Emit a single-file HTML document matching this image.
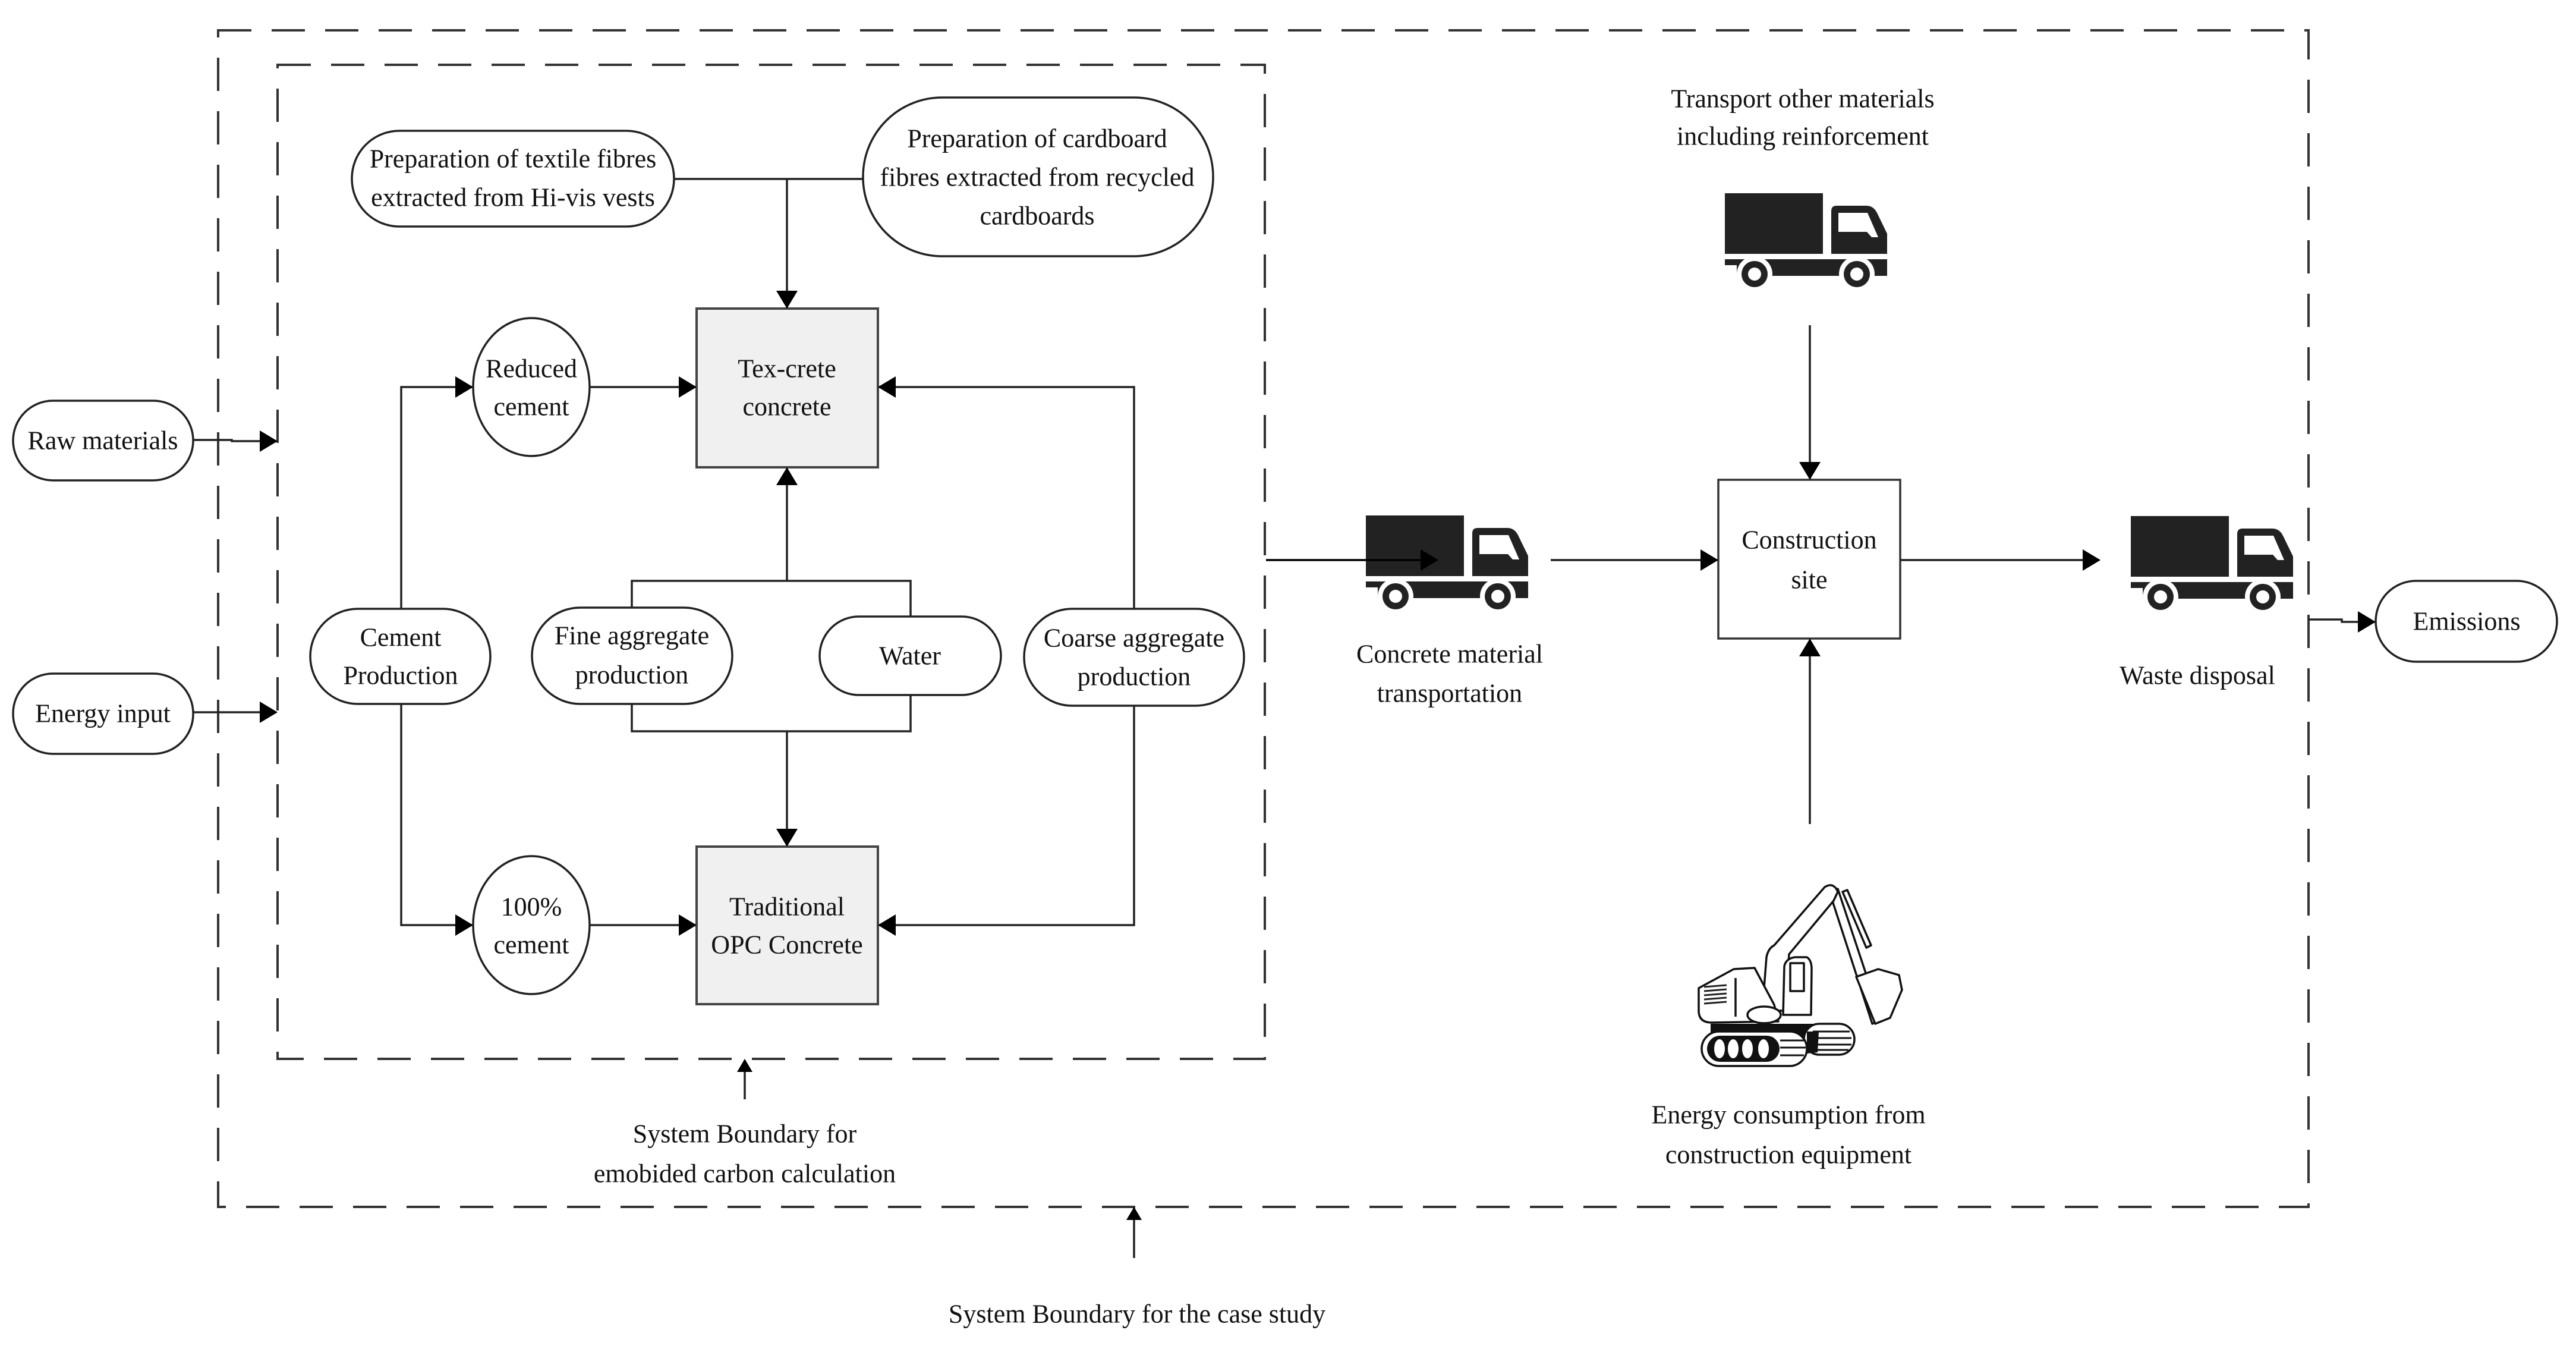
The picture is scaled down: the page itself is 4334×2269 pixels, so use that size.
<!DOCTYPE html>
<html><head><meta charset="utf-8">
<style>
html,body{margin:0;padding:0;background:#fff;}
svg{display:block;}
</style></head>
<body>
<svg width="4334" height="2269" viewBox="0 0 4334 2269" xmlns="http://www.w3.org/2000/svg">
<defs>
<marker id="ah" markerWidth="30" markerHeight="36" refX="28" refY="18" orient="auto" markerUnits="userSpaceOnUse">
<path d="M0,0 L30,18 L0,36 Z" fill="#000"/>
</marker>
<marker id="as" markerWidth="22" markerHeight="26" refX="20" refY="13" orient="auto" markerUnits="userSpaceOnUse">
<path d="M0,0 L22,13 L0,26 Z" fill="#000"/>
</marker>
<g id="truck">
<rect x="0" y="0" width="165" height="102" fill="#222"/>
<path d="M179,102 L179,30 Q179,21 188,21 L238,21 Q250,21 256,33 L273,68 L273,102 Z" fill="#222"/>
<path d="M191,33 L240,33 L258,74 L247,74 L239,65 L191,65 Z" fill="#fff"/>
<rect x="0" y="111" width="273" height="28" fill="#222"/>
<circle cx="50" cy="136" r="30" fill="#fff"/>
<circle cx="222" cy="136" r="30" fill="#fff"/>
<rect x="0" y="121" width="20" height="20" fill="#fff"/>
<rect x="75" y="139" width="120" height="4" fill="#fff"/>
<circle cx="50" cy="136" r="22" fill="#222"/>
<circle cx="50" cy="136" r="11" fill="#fff"/>
<circle cx="222" cy="136" r="22" fill="#222"/>
<circle cx="222" cy="136" r="11" fill="#fff"/>
</g>
</defs>

<g fill="none" stroke="#333" stroke-width="4" stroke-dasharray="56 34">
<rect x="367" y="51" width="3517" height="1979"/>
<rect x="467" y="109" width="1661" height="1672"/>
</g>

<g fill="#fff" stroke="#222" stroke-width="3.5">
<rect x="22" y="674" width="303" height="134" rx="67"/>
<rect x="22" y="1133" width="303" height="135" rx="67"/>
<rect x="592" y="220" width="542" height="161" rx="80"/>
<rect x="1452" y="164" width="589" height="267" rx="133"/>
<ellipse cx="894" cy="651" rx="98" ry="116"/>
<ellipse cx="894" cy="1556" rx="98" ry="116"/>
<rect x="522" y="1024" width="303" height="160" rx="80"/>
<rect x="895" y="1022" width="337" height="162" rx="81"/>
<rect x="1379" y="1037" width="305" height="132" rx="66"/>
<rect x="1723" y="1024" width="370" height="163" rx="81"/>
<rect x="3997" y="977" width="305" height="136" rx="68"/>
</g>
<g fill="#f0f0f0" stroke="#444" stroke-width="4">
<rect x="1172" y="519" width="305" height="267"/>
<rect x="1172" y="1424" width="305" height="265"/>
</g>
<rect x="2891" y="807" width="306" height="267" fill="#fff" stroke="#333" stroke-width="3.5"/>

<g fill="none" stroke="#222" stroke-width="3.5">
<path d="M325,740 L390,740 L390,742 L465,742" marker-end="url(#ah)"/>
<path d="M325,1198 L465,1198" marker-end="url(#ah)"/>
<path d="M1134,301 L1452,301"/>
<path d="M1324,301 L1324,517" marker-end="url(#ah)"/>
<path d="M675,1024 L675,651 L794,651" marker-end="url(#ah)"/>
<path d="M675,1184 L675,1556 L794,1556" marker-end="url(#ah)"/>
<path d="M992,651 L1170,651" marker-end="url(#ah)"/>
<path d="M992,1556 L1170,1556" marker-end="url(#ah)"/>
<path d="M1908,1024 L1908,651 L1479,651" marker-end="url(#ah)"/>
<path d="M1908,1187 L1908,1556 L1479,1556" marker-end="url(#ah)"/>
<path d="M1063,1022 L1063,977 L1532,977 L1532,1037"/>
<path d="M1324,977 L1324,788" marker-end="url(#ah)"/>
<path d="M1063,1184 L1063,1230 L1532,1230 L1532,1169"/>
<path d="M1324,1230 L1324,1422" marker-end="url(#ah)"/>
<path d="M1253,1849 L1253,1783" marker-end="url(#as)"/>
<path d="M1908,2116 L1908,2032" marker-end="url(#as)"/>
<path d="M2609,942 L2889,942" marker-end="url(#ah)"/>
<path d="M3197,942 L3532,942" marker-end="url(#ah)"/>
<path d="M3045,547 L3045,805" marker-end="url(#ah)"/>
<path d="M3045,1386 L3045,1076" marker-end="url(#ah)"/>
<path d="M3884,1042 L3940,1042 L3940,1046 L3995,1046" marker-end="url(#ah)"/>
</g>

<use href="#truck" x="2298" y="867"/>
<path d="M2130,942 L2418,942" stroke="#000" stroke-width="3.5" marker-end="url(#ah)"/>
<use href="#truck" x="2902" y="325"/>
<use href="#truck" x="3585" y="868"/>

<!-- excavator -->
<g fill="#fff" stroke="#111" stroke-width="3.5" stroke-linejoin="round">
<!-- stick + cylinder -->
<path d="M3078,1500 L3092,1495 L3165,1715 L3150,1722 Z"/>
<path d="M3100,1500 L3108,1497 L3148,1590 L3140,1594 Z"/>
<!-- bucket -->
<path d="M3123,1643 L3160,1630 L3195,1640 L3200,1665 L3180,1712 L3155,1722 Z"/>
<!-- boom -->
<path d="M2965,1700 L2972,1610 Q2975,1595 2985,1590 L3070,1492 Q3085,1483 3092,1500 L3085,1515 L3010,1605 L3003,1700 Z"/>
<!-- cab -->
<path d="M3000,1707 L3002,1625 Q3005,1612 3020,1610 L3040,1610 Q3048,1615 3048,1630 L3047,1707 Z"/>
<rect x="3012" y="1620" width="23" height="47"/>
<!-- body -->
<path d="M2858,1662 L2917,1630 L2952,1628 L2985,1690 L2992,1718 L2880,1720 Q2858,1720 2858,1700 Z"/>
<line x1="2920" y1="1645" x2="2920" y2="1710"/>
<ellipse cx="2968" cy="1707" rx="28" ry="14"/>
</g>
<g stroke="#222" stroke-width="3">
<line x1="2867" y1="1660" x2="2905" y2="1657"/><line x1="2867" y1="1667" x2="2905" y2="1664"/>
<line x1="2867" y1="1674" x2="2905" y2="1671"/><line x1="2867" y1="1681" x2="2905" y2="1678"/>
<line x1="2867" y1="1688" x2="2905" y2="1685"/>
</g>
<path d="M2878,1722 L3070,1722 L3070,1770 L2878,1770 Z" fill="#111"/>
<rect x="3035" y="1722" width="85" height="52" rx="26" fill="#fff" stroke="#111" stroke-width="3.5"/>
<g stroke="#111" stroke-width="3">
<line x1="3050" y1="1735" x2="3112" y2="1735"/><line x1="3048" y1="1746" x2="3115" y2="1746"/>
<line x1="3048" y1="1757" x2="3115" y2="1757"/><line x1="3050" y1="1766" x2="3110" y2="1766"/>
</g>
<path d="M3040,1735 L3060,1735 L3058,1770 L3040,1772 Z" fill="#111"/>
<rect x="2863" y="1735" width="177" height="58" rx="29" fill="#fff" stroke="#111" stroke-width="3.5"/>
<rect x="2872" y="1742" width="122" height="44" rx="22" fill="#111"/>
<g fill="#fff">
<ellipse cx="2893" cy="1764" rx="9" ry="16"/>
<ellipse cx="2916" cy="1764" rx="9" ry="16"/>
<ellipse cx="2940" cy="1764" rx="9" ry="16"/>
<ellipse cx="2967" cy="1764" rx="9" ry="16"/>
</g>
<g stroke="#111" stroke-width="3">
<line x1="2995" y1="1750" x2="3035" y2="1750"/><line x1="2995" y1="1762" x2="3038" y2="1762"/><line x1="2995" y1="1775" x2="3035" y2="1775"/>
</g>

<g font-family="'Liberation Serif','Times New Roman',Times,serif" font-size="44" fill="#111" text-anchor="middle" dominant-baseline="central">
<text x="173" y="741">Raw materials</text>
<text x="173" y="1200">Energy input</text>
<text x="863" y="267">Preparation of textile fibres</text>
<text x="863" y="332">extracted from Hi-vis vests</text>
<text x="1745" y="233">Preparation of cardboard</text>
<text x="1745" y="298">fibres extracted from recycled</text>
<text x="1745" y="363">cardboards</text>
<text x="1324" y="620">Tex-crete</text>
<text x="1324" y="684">concrete</text>
<text x="894" y="620">Reduced</text>
<text x="894" y="684">cement</text>
<text x="674" y="1072">Cement</text>
<text x="674" y="1136">Production</text>
<text x="1063" y="1069">Fine aggregate</text>
<text x="1063" y="1135">production</text>
<text x="1531" y="1103">Water</text>
<text x="1908" y="1073">Coarse aggregate</text>
<text x="1908" y="1138">production</text>
<text x="894" y="1525">100%</text>
<text x="894" y="1589">cement</text>
<text x="1324" y="1525">Traditional</text>
<text x="1324" y="1589">OPC Concrete</text>
<text x="1253" y="1907">System Boundary for</text>
<text x="1253" y="1974">emobided carbon calculation</text>
<text x="1913" y="2210">System Boundary for the case study</text>
<text x="3033" y="166">Transport other materials</text>
<text x="3033" y="229">including reinforcement</text>
<text x="2439" y="1100">Concrete material</text>
<text x="2439" y="1166">transportation</text>
<text x="3044" y="908">Construction</text>
<text x="3044" y="975">site</text>
<text x="3697" y="1136">Waste disposal</text>
<text x="4150" y="1045">Emissions</text>
<text x="3009" y="1875">Energy consumption from</text>
<text x="3009" y="1942">construction equipment</text>
</g>
</svg>
</body></html>
